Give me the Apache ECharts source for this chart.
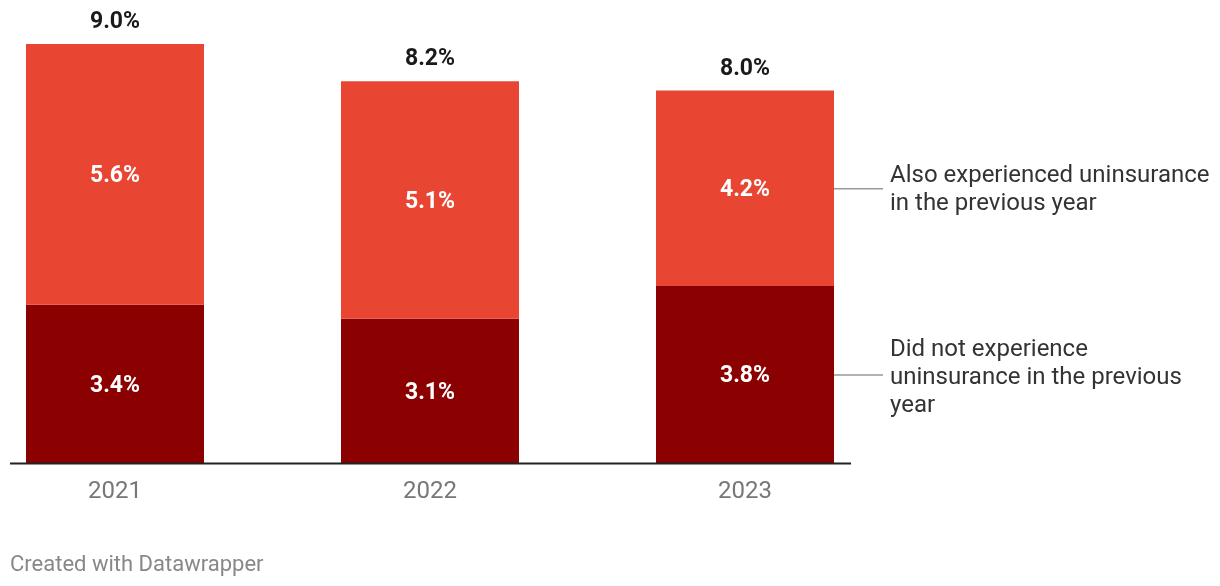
<!DOCTYPE html>
<html><head><meta charset="utf-8">
<script src="https://cdn.jsdelivr.net/npm/echarts@6/dist/echarts.min.js"></script>
<style>html,body{margin:0;padding:0;background:#fff}#c{width:1220px;height:586px}</style>
</head><body><div id="c"></div>
<script>
const years = ['2021', '2022', '2023'];
const didNot = [3.4, 3.1, 3.8];
const also = [5.6, 5.1, 4.2];
const totals = [9.0, 8.2, 8.0];
const seriesNames = ['Did not experience uninsurance in the previous year', 'Also experienced uninsurance in the previous year'];

const chart = echarts.init(document.getElementById('c'));
const innerLabel = {
  show: true, position: 'inside', offset: [0, 2], color: '#fff', fontFamily: 'Roboto',
  fontWeight: 'bold', fontSize: 23, formatter: p => p.value.toFixed(1) + '%'
};
chart.setOption({
  animation: false,
  textStyle: { fontFamily: 'Roboto' },
  grid: { left: -42.5, width: 945, top: 44, height: 419, outerBoundsMode: 'none', containLabel: false },
  xAxis: {
    type: 'category', data: years,
    axisLine: { show: false }, axisTick: { show: false },
    axisLabel: { color: '#777', fontSize: 24, margin: 17, fontFamily: 'Roboto' }
  },
  yAxis: { type: 'value', min: 0, max: 9, show: false, splitLine: { show: false } },
  series: [
    { name: seriesNames[0], type: 'bar', stack: 's', data: didNot, barWidth: 178,
      itemStyle: { color: '#8b0000' }, label: innerLabel },
    { name: seriesNames[1], type: 'bar', stack: 's', data: also, barWidth: 178,
      itemStyle: { color: '#e84633' }, label: innerLabel },
    { type: 'scatter', data: totals, symbolSize: 0, silent: true,
      itemStyle: { opacity: 1 },
      label: { show: true, position: 'top', distance: 10, color: '#1a1a1a', opacity: 1, fontWeight: 'bold',
        fontSize: 23, fontFamily: 'Roboto', formatter: p => p.value.toFixed(1) + '%' } }
  ]
});

const last = years.length - 1;
const yUpper = chart.convertToPixel({ gridIndex: 0 }, [last, didNot[last] + also[last] / 2])[1];
const yLower = chart.convertToPixel({ gridIndex: 0 }, [last, didNot[last] / 2])[1];
const yBase = chart.convertToPixel({ gridIndex: 0 }, [0, 0])[1];
const xRight = chart.convertToPixel({ gridIndex: 0 }, [last, 0])[0] + 89;

chart.setOption({
  graphic: [
    { type: 'line', shape: { x1: 10, y1: yBase + 0.5, x2: 851, y2: yBase + 0.5 }, style: { stroke: '#222', lineWidth: 2 }, z: 10 },
    { type: 'line', shape: { x1: xRight, y1: yUpper + 0.5, x2: 883, y2: yUpper + 0.5 }, style: { stroke: '#999', lineWidth: 1.5 } },
    { type: 'line', shape: { x1: xRight, y1: yLower + 0.5, x2: 883, y2: yLower + 0.5 }, style: { stroke: '#999', lineWidth: 1.5 } },
    { type: 'text', x: 890, y: yUpper + 2, style: { text: 'Also experienced uninsurance\nin the previous year', fill: '#333',
      font: '24px Roboto', lineHeight: 28, verticalAlign: 'middle' } },
    { type: 'text', x: 890, y: yLower + 3, style: { text: 'Did not experience\nuninsurance in the previous\nyear', fill: '#333',
      font: '24px Roboto', lineHeight: 28, verticalAlign: 'middle' } },
    { type: 'text', x: 10, y: 565, style: { text: 'Created with Datawrapper', fill: '#888',
      font: '22px Roboto', verticalAlign: 'middle' } }
  ]
});
</script></body></html>
